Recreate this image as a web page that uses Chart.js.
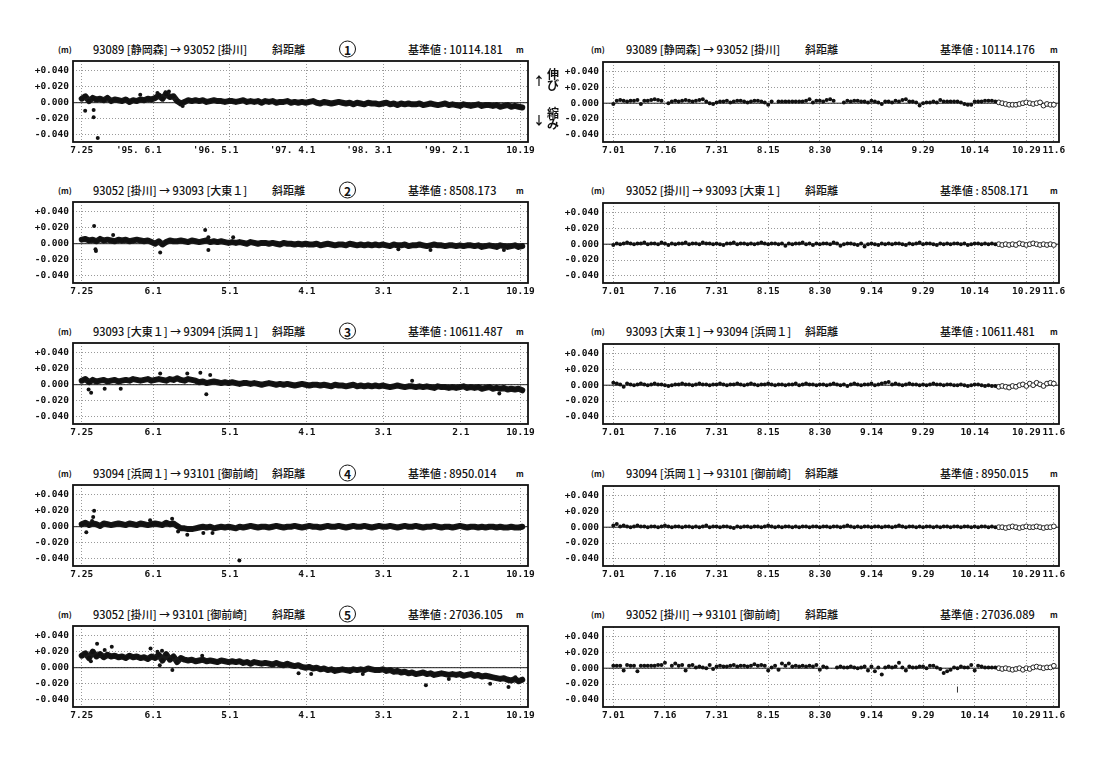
<!DOCTYPE html>
<html lang="ja">
<head>
<meta charset="utf-8">
<title>斜距離</title>
<script src="https://cdn.jsdelivr.net/npm/chart.js@4.4.1/dist/chart.umd.min.js"></script>
<style>
  html, body { margin: 0; padding: 0; background: #fff; }
  body { width: 1105px; height: 757px; position: relative; overflow: hidden;
         font-family: "Noto Sans CJK JP", "DejaVu Sans", sans-serif; color: #111; }
  canvas { position: absolute; }
  .t { position: absolute; white-space: pre; font-size: 11px; font-weight: 500; line-height: 13px; transform: translateY(-50%); }
  .u { font-size: 8px; font-weight: bold; }
  .ann { font-size: 12px; font-weight: bold; line-height: 11px; }
  .num { position: absolute; width: 15px; height: 15px; border: 1.4px solid #111; border-radius: 50%;
         text-align: center; line-height: 15px; font-size: 12px; font-weight: bold; transform: translateY(-50%); }
</style>
</head>
<body>
<script>
// ---- data (mm of change from the reference length) ----
const stations = [
    '93089 [静岡森] → 93052 [掛川]',
    '93052 [掛川] → 93093 [大東１]',
    '93093 [大東１] → 93094 [浜岡１]',
    '93094 [浜岡１] → 93101 [御前崎]',
    '93052 [掛川] → 93101 [御前崎]'
];
const baseLeft = ['10114.181', '8508.173', '10611.487', '8950.014', '27036.105'];
const baseRight = ['10114.176', '8508.171', '10611.481', '8950.015', '27036.089'];

// long-term panels: days since 1994-07-25
const leftTickDays = [0, 311, 646, 981, 1315, 1652, 1912];
const leftTickLabelsFirst = ['7.25', "'95. 6.1     ", "'96. 5.1     ", "'97. 4.1     ", "'98. 3.1     ", "'99. 2.1     ", '10.19'];
const leftTickLabels = ['7.25', '6.1', '5.1', '4.1', '3.1', '2.1', '10.19'];
const BAND_STEP = 16; // one reading every 16 days

// short-term panels: days since 07.01
const rightTickDays = [0, 15, 30, 45, 60, 75, 90, 105, 120, 128];
const rightTickLabels = ['7.01', '7.16', '7.31', '8.15', '8.30', '9.14', '9.29', '10.14', '10.29', '11.6'];
const OPEN_FROM = 112;

const yTicks = [-40, -20, 0, 20, 40];

const band1 = [5, 8, 2, 6, 4, 5, 3, 6, 2, 4,  3, 2, 4, 1, 3, 2, 4, 3, 5, 4,
    6, 9, 5, 11, 7, 8, 2, -1, 1, 3,  2, 3, 2, 3, 1, 2, 3, 2, 2, 1,
    2, 2, 1, 2, 3, 1, 2, 1, 2, 0,  2, 1, 2, 0, 1, 1, 2, 0, 1, 0,
    1, 0, 1, 2, 0, -1, 1, 0, -1, 0,  1, 0, -1, 0, -2, 0, -1, -2, 0, -1,
    -1, -2, -1, 0, -2, -1, -3, -1, -2, -1,  -2, -2, -1, -3, -2, -1, -2, -3, -2, -1,
    -3, -2, -3, -4, -2, -3, -4, -3, -2, -4,  -3, -3, -4, -3, -5, -4, -3, -5, -4, -5, -6];
const out1 = [[15, -10], [52, -9], [52, -18], [70, -44], [255, 10], [330, 12], [365, 13], [380, 14], [440, -4]];

const band2 = [5, 6, 4, 5, 3, 6, 4, 5, 4, 3,  5, 4, 5, 3, 4, 5, 4, 3, 4, 2,
    0, 3, -1, 2, 4, 3, 3, 4, 3, 2,  4, 3, 2, 3, 4, 2, 3, 2, 3, 2,
    1, 2, 1, 2, 1, 0, 2, 1, 0, 1,  1, 0, 1, 0, -1, 1, 0, 0, -1, 0,
    -1, 0, -1, -1, 0, -2, -1, 0, -1, -2,  -1, -1, -2, 0, -1, -2, -1, -2, -1, -2,
    -1, -2, -1, -2, -3, -1, -2, -2, -1, -3,  -2, -2, -1, -2, -3, -2, -1, -2, -2, -3,
    -2, -2, -3, -2, -3, -2, -2, -3, -2, -4,  -3, -2, -3, -4, -2, -3, -4, -3, -2, -4, -3];
const out2 = [[54, 22], [62, -9], [60, -7], [137, 11], [342, -11], [538, 17], [552, 8], [552, -8], [660, 8], [1380, -7], [1520, -8], [1840, -8]];

const band3 = [5, 7, 3, 6, 4, 5, 6, 4, 5, 6,  4, 5, 6, 5, 7, 6, 5, 6, 7, 5,
    6, 7, 6, 5, 7, 6, 8, 6, 5, 7,  6, 5, 3, 4, 2, 3, 4, 3, 2, 3,
    2, 3, 2, 1, 2, 2, 1, 2, 1, 0,  1, 2, 1, 0, 1, 0, 1, 0, -1, 0,
    1, 0, -1, 0, 0, -1, 0, -1, -2, 0,  -1, -1, -2, -1, 0, -2, -1, -2, -1, -2,
    -1, -2, -1, -2, -3, -2, -1, -2, -3, -2,  -2, -3, -2, -3, -2, -3, -4, -2, -3, -3,
    -4, -3, -4, -3, -2, -4, -3, -4, -3, -5,  -4, -3, -5, -4, -5, -4, -6, -5, -6, -5, -7];
const out3 = [[41, -10], [30, -6], [100, -5], [170, -5], [342, 14], [460, 14], [517, 15], [560, 12], [543, -12], [1440, 5], [1820, -11]];

const band4 = [3, 5, 2, 4, 3, 1, 4, 3, 2, 3,  4, 3, 2, 4, 3, 2, 4, 3, 2, 3,
    4, 3, 2, 5, 3, 4, 1, -2, -2, -3,  -3, -2, -1, 0, -1, 0, -2, -1, 0, -1,
    0, -1, -2, 0, -1, 0, 1, 0, -1, 0,  0, -1, 0, 1, 0, -1, 0, 0, 1, 0,
    -1, 0, 1, 0, 0, -1, 0, 1, 0, 0,  1, 0, -1, 0, 1, 0, 0, 1, 0, -1,
    0, 1, 0, 0, 1, 0, -1, 0, 1, 0,  0, 1, 0, -1, 0, 0, 1, 0, -1, 0,
    0, -1, 0, 1, 0, -1, 0, 0, -1, 0,  -1, 0, 0, -1, 0, -1, -1, 0, -1, -1, 0];
const out4 = [[20, -7], [54, 20], [50, 12], [45, 7], [298, 8], [394, 10], [420, -6], [460, -10], [530, -8], [570, -8], [687, -42]];

const band5 = [15, 18, 12, 20, 14, 17, 13, 16, 14, 15,  13, 14, 12, 15, 13, 14, 12, 13, 11, 14,
    12, 16, 9, 17, 10, 14, 7, 12, 10, 9,  10, 8, 9, 10, 8, 9, 8, 7, 9, 8,
    7, 8, 7, 8, 6, 7, 5, 7, 6, 5,  6, 5, 4, 6, 4, 3, 5, 3, 2, 3,
    1, 0, 1, -1, 0, -2, -1, -3, -2, -4,  -3, -2, -3, -4, -2, -3, -2, -3, -1, -2,
    -3, -3, -2, -4, -3, -5, -4, -6, -5, -7,  -6, -8, -7, -6, -8, -7, -9, -8, -7, -8,
    -9, -8, -9, -8, -10, -9, -8, -10, -9, -11,  -10, -11, -12, -13, -14, -13, -15, -16, -14, -17, -15];
const out5 = [[40, 8], [67, 30], [100, 22], [131, 26], [300, 24], [330, 20], [340, 3], [350, 21], [395, -3], [525, 15],
    [945, -7], [1000, -8], [1225, -8], [1500, -22], [1600, -14], [1780, -20], [1860, -24], [1890, -12]];

// short-term: one reading per day from 7.01, open circles from day OPEN_FROM
const right1Solid = [-1, 3, 4, 3, 2, 3, 3, 4, -1, 3,  3, 4, 5, 4, 3, null, 0, 2, 3, 2,
    3, 4, 3, 2, 3, 4, 5, 2, 0, -1,  1, 2, 2, 3, 1, 2, 3, 3, 2, 1,
    2, 3, 3, 2, 1, -2, 2, null, 2, 2,  2, 2, 2, 2, 2, 2, 3, 5, 1, 3,
    3, 2, 4, 5, 3, null, null, 1, 3, 2,  3, 3, 2, 2, 1, 3, 2, 1, -1, 2,
    2, 1, 3, 2, 4, 5, 2, 2, 1, -3,  0, 1, 1, 2, 1, 4, 2, 2, 2, 2,
    2, 1, -1, -2, -2, 2, 2, 2, 3, 3, 3, 2];
const right1Open = [1, 0, -1, -2, -2, -2, -1, 0, 1, 0, -1, 0, 1, -3, -1, -2, -2];

const right2Solid = [-1, 1, 0, 1, 2, 1, 0, 1, 1, 2,  0, 1, 1, 0, 2, 1, -1, 1, 0, 1,
    1, 2, 0, 1, 1, 0, 2, 1, 1, 0,  1, 0, -1, 1, 1, 2, 0, 1, 1, 0,
    1, 0, 1, 2, 1, 0, 1, 1, 0, 1,  -2, 1, 0, 1, 1, 2, 0, 1, -1, 1,
    0, 1, 1, 0, 2, 1, -2, 0, 1, 1,  0, -1, 1, -3, 0, 1, 0, -1, 1, 0,
    1, 0, 1, 1, 0, -1, 1, 0, 1, 2,  0, 1, 1, 0, -1, 1, 0, 1, 0, 1,
    1, 0, 1, -1, 0, 1, 1, 0, 1, 0, 1, 0];
const right2Open = [0, -1, 0, -1, 0, -1, 1, 0, -1, 0, 1, 0, -1, 0, -1, 0, -1];

const right3Solid = [3, 2, 1, -2, 2, 1, 0, 1, 2, 1,  0, 1, 2, 1, 1, 0, -1, 0, 1, 1,
    2, 1, 1, 0, 1, 2, 1, 1, 0, 1,  1, 2, 1, 0, 1, 1, 2, 1, 0, 1,
    2, 1, 0, 1, 1, 2, 1, 0, 1, 1,  0, 1, 1, 2, 0, 1, 2, 1, 1, 0,
    1, 1, 0, 1, 2, 1, 0, 1, -1, 1,  2, 1, 0, 1, 1, 2, 0, 1, 2, 3,
    4, 1, 2, 1, 0, 1, 2, 1, 1, 0,  1, 0, 1, 2, 1, 1, 0, 1, 1, 0,
    0, 1, 0, -1, 0, 1, 1, 0, -1, 0, -1, -1];
const right3Open = [-2, -1, -2, -3, -1, -2, 0, 1, -1, 2, 0, 3, 1, -1, 2, 3, 2];

const right4Solid = [2, 4, 1, 2, 1, 0, 1, 2, 1, 1,  0, 1, 1, 0, 1, 2, 1, 0, 1, 1,
    0, 1, 1, 0, 1, 0, 1, 2, 0, 1,  1, 0, 1, 1, 0, -1, 1, 0, 1, 1,
    0, 1, 1, 0, 1, 2, 1, 0, 1, 0,  1, 1, 0, 1, 0, 1, 1, 0, 1, 1,
    0, 1, 1, 0, 1, 1, 0, 1, 2, 1,  0, 1, 0, 1, 1, 0, 1, 1, 0, 1,
    1, 0, 1, 2, 1, 0, 1, 1, 0, 1,  0, 1, 1, 0, 1, 0, 1, 1, 0, 1,
    1, 0, 1, 1, 0, 1, 0, 1, 1, 0, 1, 0];
const right4Open = [0, 0, -1, 0, 1, 0, -1, 0, 1, 0, 0, 1, 0, -1, 0, 0, 1];

const right5Solid = [3, 3, 3, -3, 4, 3, 3, -4, 3, 3,  3, 3, 3, 4, 4, 7, null, 3, 6, 3,
    4, -3, 3, 4, 1, 2, 1, 0, 4, -1,  2, 3, 2, 2, 3, 4, 2, 3, 3, 2,
    3, 5, 3, 4, 3, -3, 1, 3, -2, 6,  3, 6, 2, 3, 2, 3, 2, 3, 2, 4,
    -2, 2, 1, null, null, 1, 2, 1, 1, 2,  1, 0, 1, 2, -3, 2, -4, 1, -8, 1,
    2, 1, 2, 7, 1, -3, 2, 1, 1, 2,  2, 0, 3, 3, 1, -1, -6, -4, -2, 1,
    0, 2, 1, 1, 4, -3, 3, 2, 1, 1, 1, 1];
const right5Open = [0, -1, 0, -1, -2, -1, 0, -2, 0, -1, 1, 2, 1, 0, 1, 1, 3];
const right5Stray = [[100, -27]];

const bands = [band1, band2, band3, band4, band5];
const outs = [out1, out2, out3, out4, out5];
const rightSolids = [right1Solid, right2Solid, right3Solid, right4Solid, right5Solid];
const rightOpens = [right1Open, right2Open, right3Open, right4Open, right5Open];

// ---- layout ----
const rowTops = [61, 202, 343, 485, 626];
const PLOT_H = 81;
const leftBox = {l: 73, r: 528};
const rightBox = {l: 603, r: 1059};
const Y_MIN = -49, Y_MAX = 52;

Chart.defaults.font.family = 'DejaVu Sans Mono';
Chart.defaults.color = '#111';

const framePlugin = {
    id: 'frame',
    beforeDatasetsDraw(chart) {
        const {ctx, chartArea: a, scales: {y}} = chart;
        const y0 = y.getPixelForValue(0);
        ctx.save();
        ctx.strokeStyle = '#222';
        ctx.lineWidth = 1;
        ctx.beginPath();
        ctx.moveTo(a.left, y0);
        ctx.lineTo(a.right, y0);
        ctx.stroke();
        ctx.restore();
    },
    afterDraw(chart) {
        const {ctx, chartArea: a} = chart;
        ctx.save();
        ctx.strokeStyle = '#111';
        ctx.lineWidth = 1.8;
        ctx.strokeRect(a.left, a.top, a.right - a.left, a.bottom - a.top);
        ctx.restore();
    }
};

function makeChart(box, top, datasets, xMin, xMax, tickDays, tickLabels) {
    const padL = 44, padT = 4, padR = 16, axisH = 18;
    const w = box.r - box.l + padL + padR, h = PLOT_H + padT + axisH;
    const cv = document.createElement('canvas');
    cv.width = w;
    cv.height = h;
    cv.style.left = (box.l - padL) + 'px';
    cv.style.top = (top - padT) + 'px';
    cv.style.width = w + 'px';
    cv.style.height = h + 'px';
    document.body.appendChild(cv);

    new Chart(cv, {
        type: 'scatter',
        data: {datasets: datasets},
        options: {
            responsive: false,
            animation: false,
            devicePixelRatio: 1,
            layout: {padding: {top: padT, right: padR, left: 0, bottom: 0}},
            plugins: {legend: {display: false}, tooltip: {enabled: false}},
            scales: {
                x: {
                    type: 'linear', min: xMin, max: xMax,
                    afterBuildTicks: s => { s.ticks = tickDays.map(v => ({value: v})); },
                    afterFit: s => { s.height = axisH; s.paddingLeft = 0; s.paddingRight = 0; },
                    grid: {color: '#9a9a9a', lineWidth: 1, drawTicks: false},
                    border: {display: false, dash: [1, 2]},
                    ticks: {
                        autoSkip: false, maxRotation: 0, minRotation: 0, padding: 3,
                        font: {size: 9.5, weight: 'bold'},
                        callback: (v, i) => tickLabels[i]
                    }
                },
                y: {
                    type: 'linear', min: Y_MIN, max: Y_MAX,
                    afterBuildTicks: s => { s.ticks = yTicks.map(v => ({value: v})); },
                    afterFit: s => { s.width = padL; s.paddingTop = 0; s.paddingBottom = 0; },
                    grid: {color: '#9a9a9a', lineWidth: 1, drawTicks: false},
                    border: {display: false, dash: [1, 2]},
                    ticks: {
                        padding: 4,
                        font: {size: 9.5, weight: 'bold'},
                        callback: v => (v > 0 ? '+' : '') + (v / 1000).toFixed(3)
                    }
                }
            }
        },
        plugins: [framePlugin]
    });
}

function addText(x, y, str, cls) {
    const d = document.createElement('div');
    d.className = 't' + (cls ? ' ' + cls : '');
    d.style.left = x + 'px';
    d.style.top = y + 'px';
    d.textContent = str;
    document.body.appendChild(d);
}

function addCircleNum(x, y, n) {
    const d = document.createElement('div');
    d.className = 'num';
    d.style.left = x + 'px';
    d.style.top = y + 'px';
    d.textContent = n;
    document.body.appendChild(d);
}

rowTops.forEach((top, r) => {
    const ty = top - 12;

    // long-term panel
    addText(58, ty, '(m)', 'u');
    addText(93, ty, stations[r]);
    addText(272, ty, '斜距離');
    addCircleNum(339, ty, String(r + 1));
    addText(408, ty, '基準値 : ' + baseLeft[r]);
    addText(516, ty, 'm', 'u');

    makeChart(leftBox, top, [
        {
            data: bands[r].map((v, i) => ({x: i * BAND_STEP, y: v})),
            showLine: true,
            borderColor: '#1a1a1a', borderWidth: 6,
            borderJoinStyle: 'round', borderCapStyle: 'round',
            pointRadius: 2.3, backgroundColor: '#111', pointBorderWidth: 0
        },
        {
            data: outs[r].map(p => ({x: p[0], y: p[1]})),
            pointRadius: 2, backgroundColor: '#111', pointBorderWidth: 0
        }
    ], -38, 1945, leftTickDays, r === 0 ? leftTickLabelsFirst : leftTickLabels);

    // short-term panel
    addText(591, ty, '(m)', 'u');
    addText(626, ty, stations[r]);
    addText(805, ty, '斜距離');
    addText(940, ty, '基準値 : ' + baseRight[r]);
    addText(1050, ty, 'm', 'u');

    const solidPts = [];
    rightSolids[r].forEach((v, d) => { if (v !== null) solidPts.push({x: d, y: v}); });
    const sets = [
        {
            data: solidPts,
            pointRadius: 2, backgroundColor: '#111', pointBorderWidth: 0
        },
        {
            data: rightOpens[r].map((v, j) => ({x: OPEN_FROM + j, y: v})),
            pointRadius: 2.4, backgroundColor: '#fff', borderColor: '#222', pointBorderWidth: 1
        }
    ];
    if (r === 4) {
        sets.push({
            data: right5Stray.map(p => ({x: p[0], y: p[1]})),
            pointStyle: 'line', rotation: 90, pointRadius: 3, borderColor: '#333', pointBorderWidth: 1
        });
    }
    makeChart(rightBox, top, sets, -3, 129.5, rightTickDays, rightTickLabels);
});

// stretch / shrink legend between the first pair
addText(533, 80, '↑', 'ann');
addText(547, 79, '伸\nび', 'ann');
addText(533, 119, '↓', 'ann');
addText(547, 118, '縮\nみ', 'ann');
</script>
</body>
</html>
